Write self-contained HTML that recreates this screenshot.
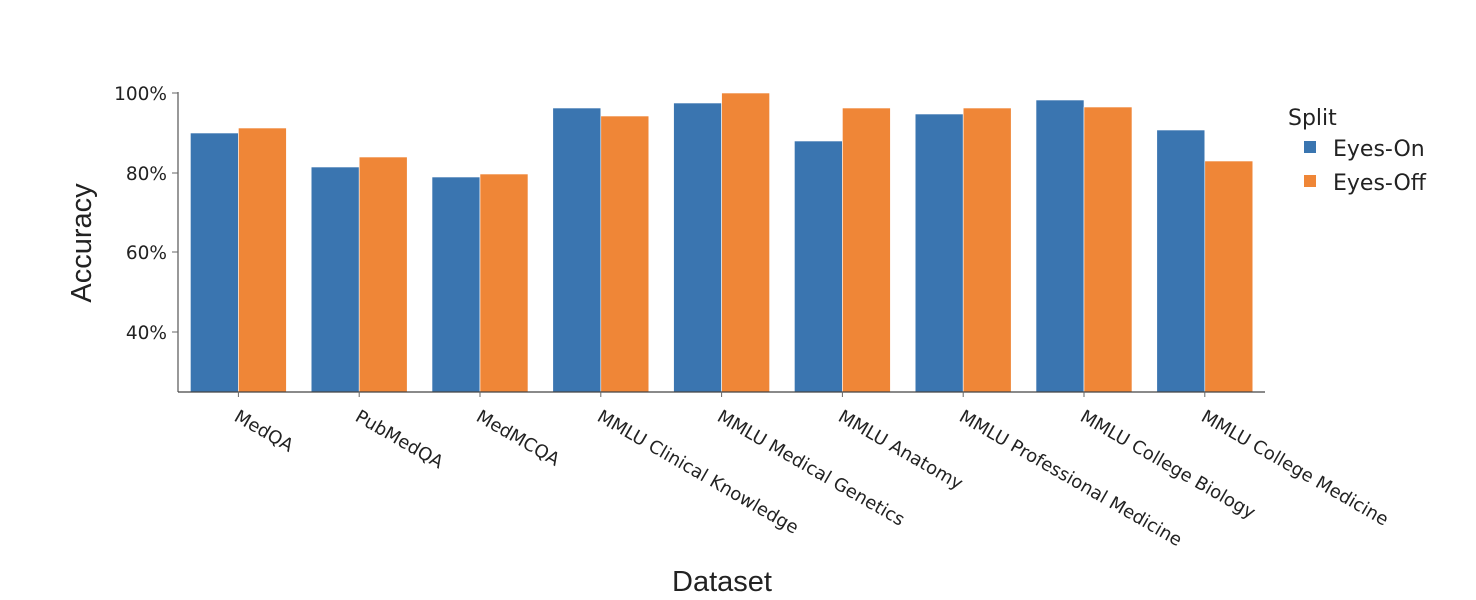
<!DOCTYPE html>
<html><head><meta charset="utf-8"><style>html,body{margin:0;padding:0;background:#fff}svg{display:block}</style></head>
<body>
<svg width="1476" height="600" xmlns="http://www.w3.org/2000/svg">
<g stroke="#fff" stroke-width="0.6">
<rect x="190.4" y="133" width="48" height="259" fill="#3a75b0"/><rect x="238.4" y="128" width="48" height="264" fill="#ef8637"/>
<rect x="311.2" y="167" width="48" height="225" fill="#3a75b0"/><rect x="359.2" y="157" width="48" height="235" fill="#ef8637"/>
<rect x="432" y="177" width="48" height="215" fill="#3a75b0"/><rect x="480" y="174" width="48" height="218" fill="#ef8637"/>
<rect x="552.8" y="108" width="48" height="284" fill="#3a75b0"/><rect x="600.8" y="116" width="48" height="276" fill="#ef8637"/>
<rect x="673.6" y="103" width="48" height="289" fill="#3a75b0"/><rect x="721.6" y="93" width="48" height="299" fill="#ef8637"/>
<rect x="794.4" y="141" width="48" height="251" fill="#3a75b0"/><rect x="842.4" y="108" width="48" height="284" fill="#ef8637"/>
<rect x="915.2" y="114" width="48" height="278" fill="#3a75b0"/><rect x="963.2" y="108" width="48" height="284" fill="#ef8637"/>
<rect x="1036" y="100" width="48" height="292" fill="#3a75b0"/><rect x="1084" y="107" width="48" height="285" fill="#ef8637"/>
<rect x="1156.8" y="130" width="48" height="262" fill="#3a75b0"/><rect x="1204.8" y="161" width="48" height="231" fill="#ef8637"/>
</g>
<line x1="178" y1="92" x2="178" y2="392" stroke="#555" stroke-width="1.2"/>
<line x1="178" y1="392" x2="1265" y2="392" stroke="#444" stroke-width="1.2"/>
<g font-family="DejaVu Sans, sans-serif" font-size="18.5" fill="#222" text-anchor="end">
<line x1="172" y1="93" x2="178" y2="93" stroke="#666"/><text x="167" y="100">100%</text>
<line x1="172" y1="173" x2="178" y2="173" stroke="#666"/><text x="167" y="180">80%</text>
<line x1="172" y1="252" x2="178" y2="252" stroke="#666"/><text x="167" y="259">60%</text>
<line x1="172" y1="332" x2="178" y2="332" stroke="#666"/><text x="167" y="339">40%</text>
</g>
<g stroke="#666">
<line x1="238.4" y1="392" x2="238.4" y2="397"/><line x1="359.2" y1="392" x2="359.2" y2="397"/><line x1="480" y1="392" x2="480" y2="397"/>
<line x1="600.8" y1="392" x2="600.8" y2="397"/><line x1="721.6" y1="392" x2="721.6" y2="397"/><line x1="842.4" y1="392" x2="842.4" y2="397"/>
<line x1="963.2" y1="392" x2="963.2" y2="397"/><line x1="1084" y1="392" x2="1084" y2="397"/><line x1="1204.8" y1="392" x2="1204.8" y2="397"/>
</g>
<g font-family="DejaVu Sans, sans-serif" font-size="18" fill="#222">
<text transform="translate(233,420) rotate(30)">MedQA</text>
<text transform="translate(354,420) rotate(30)">PubMedQA</text>
<text transform="translate(475,420) rotate(30)">MedMCQA</text>
<text transform="translate(596,420) rotate(30)">MMLU Clinical Knowledge</text>
<text transform="translate(716,420) rotate(30)">MMLU Medical Genetics</text>
<text transform="translate(837,420) rotate(30)">MMLU Anatomy</text>
<text transform="translate(958,420) rotate(30)">MMLU Professional Medicine</text>
<text transform="translate(1079,420) rotate(30)">MMLU College Biology</text>
<text transform="translate(1200,420) rotate(30)">MMLU College Medicine</text>
</g>
<text transform="translate(91,243) rotate(-90)" text-anchor="middle" font-family="Liberation Sans, sans-serif" font-size="29" fill="#222">Accuracy</text>
<text x="722" y="591" text-anchor="middle" font-family="Liberation Sans, sans-serif" font-size="29" fill="#222">Dataset</text>
<g font-family="DejaVu Sans, sans-serif" font-size="22" fill="#222">
<text x="1288" y="125">Split</text>
<rect x="1304" y="141" width="12" height="12" fill="#3a75b0"/><text x="1333" y="156">Eyes-On</text>
<rect x="1304" y="175" width="12" height="12" fill="#ef8637"/><text x="1333" y="190">Eyes-Off</text>
</g>
</svg>
</body></html>
